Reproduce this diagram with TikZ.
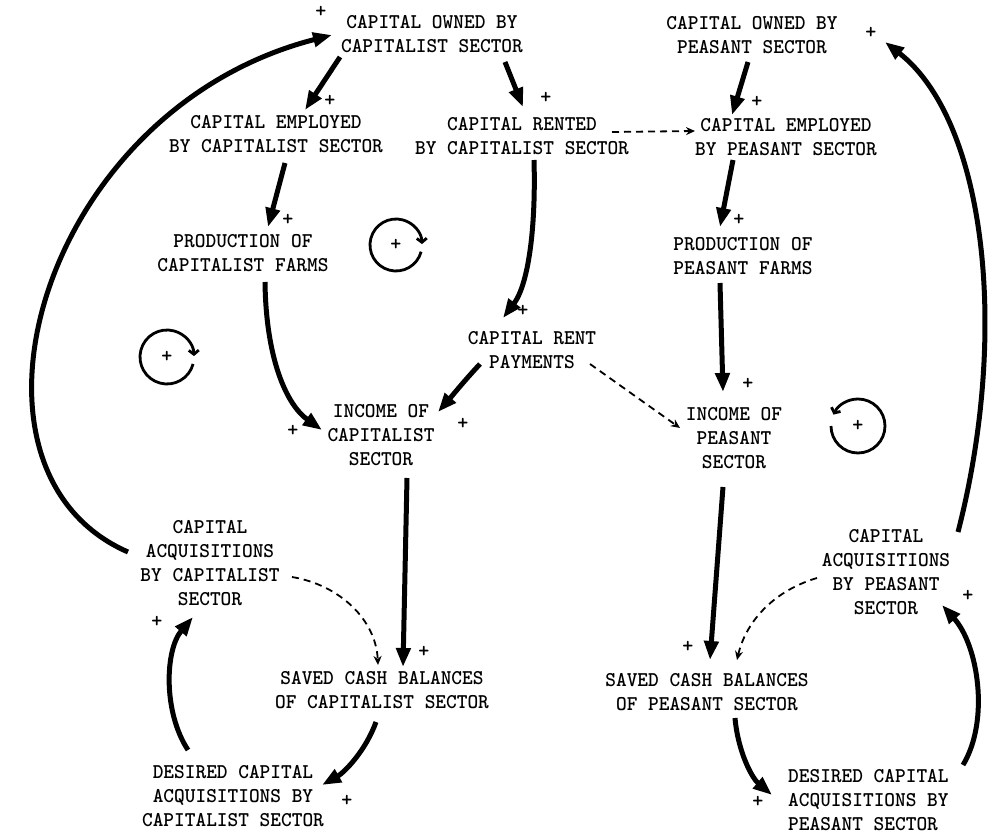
\documentclass[tikz,border=0pt]{standalone}
\usepackage{fontspec}
\newfontfamily\twfont{lmmonolt10-bold.otf}[FakeStretch=0.97]
\newfontfamily\twplain{lmmonolt10-bold.otf}
\usetikzlibrary{arrows.meta,calc}
\begin{document}
\begin{tikzpicture}[x=1pt,y=-1pt,
  lbl/.style={font=\fontsize{21}{24}\selectfont\twfont, align=center, inner sep=0pt},
  pol/.style={font=\fontsize{21}{21}\selectfont\twplain, inner sep=0pt},
  flow/.style={line width=5pt, -{Triangle[length=19pt,width=14pt]}},
  info/.style={line width=1.8pt, dash pattern=on 7pt off 5pt, -{Stealth[length=9pt,width=8pt]}},
  fbloop/.style={line width=2.8pt, -{Straight Barb[length=4pt,width=10pt]}}]
\useasboundingbox (0,0) rectangle (989,837);

% variables
\node[lbl] (A) at (432,34) {CAPITAL OWNED BY\\CAPITALIST SECTOR};
\node[lbl] (B) at (276,134) {CAPITAL EMPLOYED\\BY CAPITALIST SECTOR};
\node[lbl] (C) at (522,136) {CAPITAL RENTED\\BY CAPITALIST SECTOR};
\node[lbl] (D) at (752,35) {CAPITAL OWNED BY\\PEASANT SECTOR};
\node[lbl] (E) at (786,137) {CAPITAL EMPLOYED\\BY PEASANT SECTOR};
\node[lbl] (F) at (243,253) {PRODUCTION OF\\CAPITALIST FARMS};
\node[lbl] (G) at (743,256) {PRODUCTION OF\\PEASANT FARMS};
\node[lbl] (H) at (532,350) {CAPITAL RENT\\PAYMENTS};
\node[lbl] (I) at (381,435) {INCOME OF\\CAPITALIST\\SECTOR};
\node[lbl] (J) at (734,438) {INCOME OF\\PEASANT\\SECTOR};
\node[lbl] (K) at (382,690) {SAVED CASH BALANCES\\OF CAPITALIST SECTOR};
\node[lbl] (L) at (210,563) {CAPITAL\\ACQUISITIONS\\BY CAPITALIST\\SECTOR};
\node[lbl] (M) at (233,796) {DESIRED CAPITAL\\ACQUISITIONS BY\\CAPITALIST SECTOR};
\node[lbl] (N) at (707,692) {SAVED CASH BALANCES\\OF PEASANT SECTOR};
\node[lbl] (O) at (886,572) {CAPITAL\\ACQUISITIONS\\BY PEASANT\\SECTOR};
\node[lbl, align=left, anchor=west] (P) at (788,800) {DESIRED CAPITAL\\ACQUISITIONS BY\\PEASANT SECTOR};

% material flows (heavy arrows)
\draw[flow] ($(A)+(-92,23)$) -- ($(B)+(29,-24)$);
\draw[flow] ($(A)+(73,28)$) -- ($(C)+(1,-29)$);
\draw[flow] ($(D)+(-4,27)$) -- ($(E)+(-54,-22)$);
\draw[flow] ($(E)+(-53,23)$) -- ($(G)+(-23,-29)$);
\draw[flow] ($(B)+(9,29)$) -- ($(F)+(25,-26)$);
\draw[flow] ($(C)+(12,24)$) .. controls (536,230) and (528,285) .. ($(H)+(-29,-32)$);
\draw[flow] ($(F)+(22,29)$) .. controls (266,360) and (287,405) .. ($(I)+(-59,-5)$);
\draw[flow] ($(H)+(-52,14)$) .. controls (465,380) and (452,396) .. ($(I)+(57,-23)$);
\draw[flow] ($(G)+(-23,27)$) -- ($(J)+(-11,-46)$);
\draw[flow] ($(I)+(26,43)$) -- ($(K)+(21,-23)$);
\draw[flow] ($(J)+(-11,49)$) -- ($(N)+(3,-32)$);
\draw[flow] ($(K)+(-6,32)$) .. controls (366,750) and (345,772) .. ($(M)+(89,-11)$);
\draw[flow] ($(M)+(-45,-46)$) .. controls (163,712) and (165,650) .. ($(L)+(-17,54)$);
\draw[flow] ($(L)+(-82,-11)$) .. controls (-60,470) and (40,110) .. ($(A)+(-100,1)$);
\draw[flow] ($(O)+(72,-40)$) .. controls (1010,330) and (985,120) .. ($(D)+(133,7)$);
\draw[flow] ($(P.west)+(175,-35)$) .. controls (990,720) and (978,645) .. ($(O)+(56,33)$);
\draw[flow] ($(N)+(28,26)$) .. controls (738,752) and (752,778) .. ($(P.west)+(-16,-5)$);

% information links (dashed)
\draw[info] ($(C)+(90,-4)$) -- ($(E)+(-91,-6)$);
\draw[info] ($(H)+(58,14)$) -- ($(J)+(-54,-10)$);
\draw[info] ($(L)+(82,14)$) .. controls (340,585) and (376,620) .. ($(K)+(-4,-25)$);
\draw[info] ($(O)+(-69,6)$) .. controls (770,592) and (745,625) .. ($(N)+(30,-32)$);

% link polarities
\node[pol] (p1) at (321,12) {+};
\node[pol] (p2) at (330,101) {+};
\node[pol] (p3) at (546,98) {+};
\node[pol] (p4) at (871,33) {+};
\node[pol] (p5) at (757,102) {+};
\node[pol] (p6) at (288,220) {+};
\node[pol] (p7) at (739,220) {+};
\node[pol] (p8) at (523,311) {+};
\node[pol] (p9) at (293,431) {+};
\node[pol] (p10) at (463,424) {+};
\node[pol] (p11) at (748,384) {+};
\node[pol] (p12) at (424,652) {+};
\node[pol] (p13) at (157,622) {+};
\node[pol] (p14) at (347,801) {+};
\node[pol] (p15) at (688,647) {+};
\node[pol] (p16) at (968,596) {+};
\node[pol] (p17) at (758,802) {+};

% loop polarity markers
\node[pol] (r1) at (396,245) {+};
\draw[fbloop] ($(r1)+(15:26)$) arc[start angle=15, end angle=358, radius=26];
\node[pol] (r2) at (167,357) {+};
\draw[fbloop] ($(r2)+(15:27)$) arc[start angle=15, end angle=358, radius=27];
\node[pol] (r3) at (858,426) {+};
\draw[fbloop] ($(r3)+(-180:27)$) arc[start angle=-180, end angle=-515, radius=27];
\end{tikzpicture}
\end{document}
